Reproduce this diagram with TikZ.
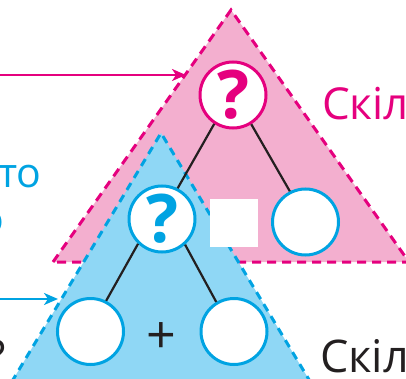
\documentclass[tikz,border=0pt]{standalone}
\usepackage{fontspec}
\setmainfont{Open Sans}
\usetikzlibrary{arrows.meta}
\definecolor{mag}{HTML}{E5007E}
\definecolor{pinkfill}{HTML}{F3AFCF}
\definecolor{cy}{HTML}{00A3E2}
\definecolor{bluefill}{HTML}{8FD7F5}
\definecolor{ink}{HTML}{231F20}
\tikzset{
  circ/.style={circle, minimum size=66pt, inner sep=0pt, line width=3pt, fill=white},
  qmark/.style={font=\fontsize{67}{67}\selectfont\bfseries},
  edgeline/.style={line width=2.2pt, draw=ink},
  bigtext/.style={font=\fontsize{44}{52}\selectfont, inner sep=0pt},
  pinkdash/.style={draw=mag, line width=3pt, dash pattern=on 9pt off 6pt},
  bluedash/.style={draw=cy, line width=3pt, dash pattern=on 8pt off 6pt},
  pointer/.style={line width=2.2pt, -{Stealth[length=14pt,width=12pt,inset=4pt]}}
}
\begin{document}
\begin{tikzpicture}[x=1pt,y=-1pt]
\useasboundingbox (0,0) rectangle (406,379);
\clip (0,0) rectangle (406,379);
% pink triangle
\coordinate (pA) at (231,10);
\coordinate (pL) at (53,262);
\coordinate (pR) at (409,262);
\fill[pinkfill] (pL) -- (pA) -- (pR) -- cycle;
\draw[pinkdash] (pL) -- (pA) -- (pR) -- cycle;
% blue triangle
\coordinate (bA) at (161,133);
\coordinate (bL) at (-10,418);
\coordinate (bR) at (332,418);
\fill[bluefill] (bL) -- (bA) -- (bR) -- cycle;
\draw[bluedash] (bL) -- (bA) -- (bR);
% white square
\node[fill=white, minimum size=48pt, inner sep=0pt] (sq) at (233.5,223) {};
% circles
\node[circ, draw=mag, text=mag, qmark] (pq) at (233,95) {?};
\node[circ, draw=cy, text=cy, qmark] (bq) at (162,219) {?};
\node[circ, draw=cy] (rc) at (305.5,222) {};
\node[circ, draw=cy] (bl) at (90.5,331.5) {};
\node[circ, draw=cy] (br) at (234,331.5) {};
% connectors
\draw[edgeline] (pq.237) -- (bq.63);
\draw[edgeline] (pq.-58) -- (rc.117);
\draw[edgeline] (bq.226) -- (bl.63);
\draw[edgeline] (bq.-48) -- (br.121);
% plus
\node[text=ink, font=\fontsize{52}{52}\selectfont, inner sep=0pt] (plus) at (161,338) {+};
% arrows
\coordinate (ma) at (-5,75);
\coordinate (mt) at (186,75);
\draw[pointer, draw=mag, fill=mag] (ma) -- (mt);
\coordinate (ba) at (-5,299);
\coordinate (bt) at (58,299);
\draw[pointer, draw=cy, fill=cy] (ba) -- (bt);
% texts
\node[bigtext, text=mag, anchor=base west] (t1) at (322,120) {Скіл};
\node[bigtext, text=ink, anchor=base west, font=\fontsize{45}{52}\selectfont] (t2) at (320,372) {Скіл};
\node[bigtext, text=cy, anchor=base west, font=\fontsize{41}{48}\selectfont] (t3) at (-2,187) {то};
\node[bigtext, text=cy, anchor=base east, font=\fontsize{41}{48}\selectfont] (t4) at (4,233) {о};
\node[bigtext, text=ink, anchor=base east, font=\fontsize{45}{52}\selectfont] (t5) at (6,372) {?};
\end{tikzpicture}
\end{document}
